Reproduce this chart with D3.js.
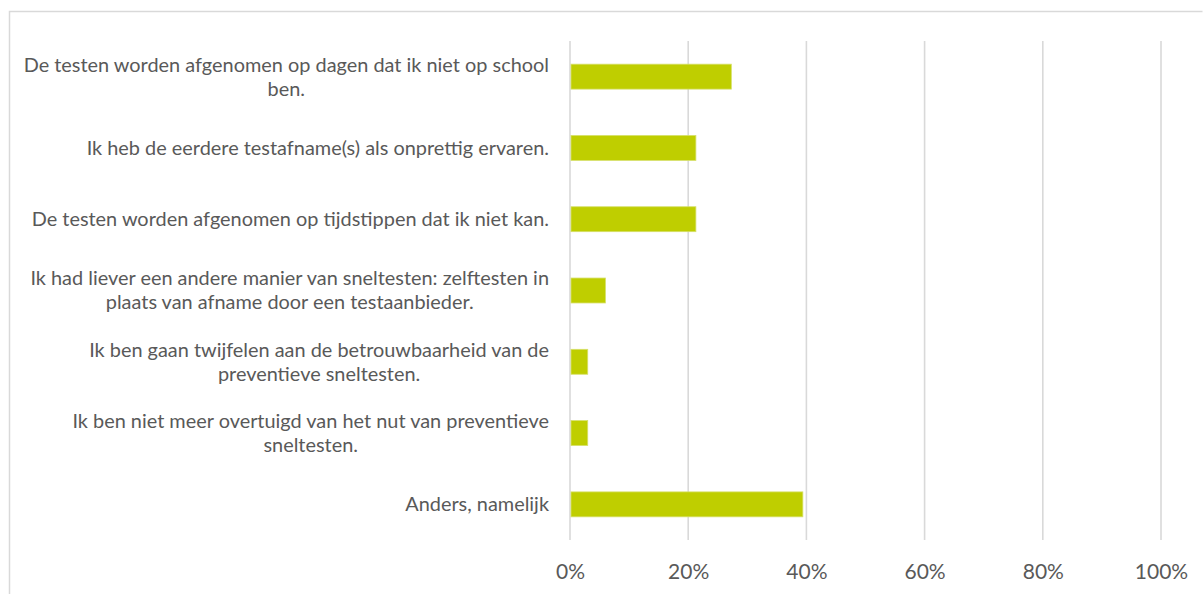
<!DOCTYPE html>
<html>
<head>
<meta charset="utf-8">
<script src="https://cdn.jsdelivr.net/npm/d3@7"></script>
<style>
  html, body { margin: 0; padding: 0; background: #fff; }
  svg { display: block; }
</style>
</head>
<body>
<script>
// ---- data ----
const categories = [
  ["De testen worden afgenomen op dagen dat ik niet op school", "ben."],
  ["Ik heb de eerdere testafname(s) als onprettig ervaren."],
  ["De testen worden afgenomen op tijdstippen dat ik niet kan."],
  ["Ik had liever een andere manier van sneltesten: zelftesten in", "plaats van afname door een testaanbieder."],
  ["Ik ben gaan twijfelen aan de betrouwbaarheid van de", "preventieve sneltesten."],
  ["Ik ben niet meer overtuigd van het nut van preventieve", "sneltesten."],
  ["Anders, namelijk"]
];
const values = [0.273, 0.213, 0.213, 0.06, 0.03, 0.03, 0.394];
const tickValues = [0, 0.2, 0.4, 0.6, 0.8, 1.0];
const tickLabels = ["0%", "20%", "40%", "60%", "80%", "100%"];

// ---- layout ----
const W = 1203, H = 594;
const plot = { left: 570, right: 1161, top: 41, bottom: 540 };
const labelRight = 549;
const textColor = "#595959";
const gridColor = "#d9d9d9";
const barColor = "#bfce00";
const font = "Lato, 'Open Sans', sans-serif";

const svg = d3.select("body").append("svg").attr("width", W).attr("height", H);

// outer border
svg.append("path")
  .attr("d", `M9.5,${H} L9.5,11.5 L1202.5,11.5`)
  .attr("fill", "none").attr("stroke", gridColor).attr("stroke-width", 1.5);

const keys = categories.map((c, i) => "c" + i);
const x = d3.scaleLinear().domain([0, 1]).range([plot.left, plot.right]);
const y = d3.scaleBand().domain(keys).range([plot.top, plot.bottom])
  .paddingInner(0.65).paddingOuter(0.325);

// gridlines
svg.append("g").selectAll("line").data(tickValues).join("line")
  .attr("x1", d => x(d)).attr("x2", d => x(d))
  .attr("y1", plot.top).attr("y2", plot.bottom)
  .attr("stroke", gridColor).attr("stroke-width", 1.6);

// bars
svg.append("g").selectAll("rect").data(values).join("rect")
  .attr("x", x(0) + 1)
  .attr("y", (d, i) => y(keys[i]))
  .attr("width", d => x(d) - x(0) - 1)
  .attr("height", y.bandwidth())
  .attr("fill", barColor)
  .attr("stroke", "#d6e06a").attr("stroke-width", 0.8);

// x axis tick labels
const xAxis = d3.axisBottom(x).tickValues(tickValues)
  .tickFormat((d, i) => tickLabels[i]).tickSize(0).tickPadding(0);
const gx = svg.append("g").attr("transform", `translate(0, 572)`).call(xAxis);
gx.select(".domain").remove();
gx.selectAll("text")
  .attr("fill", textColor).attr("font-family", font).attr("font-size", 21)
  .attr("dy", "0.35em").attr("y", 0);

// category labels (right-aligned block, centered lines)
const lineH = 24;
const lg = svg.append("g");
categories.forEach((lines, i) => {
  const cy = y(keys[i]) + y.bandwidth() / 2;
  const t = lg.append("text")
    .attr("font-family", font).attr("font-size", 19.9)
    .attr("fill", textColor).attr("text-anchor", "middle");
  lines.forEach((ln, j) => {
    t.append("tspan").text(ln)
      .attr("y", cy + (j - (lines.length - 1) / 2) * lineH)
      .attr("dy", "0.35em");
  });
  let maxW = 0;
  t.selectAll("tspan").each(function() { maxW = Math.max(maxW, this.getComputedTextLength()); });
  t.selectAll("tspan").attr("x", labelRight - maxW / 2);
});
</script>
</body>
</html>
